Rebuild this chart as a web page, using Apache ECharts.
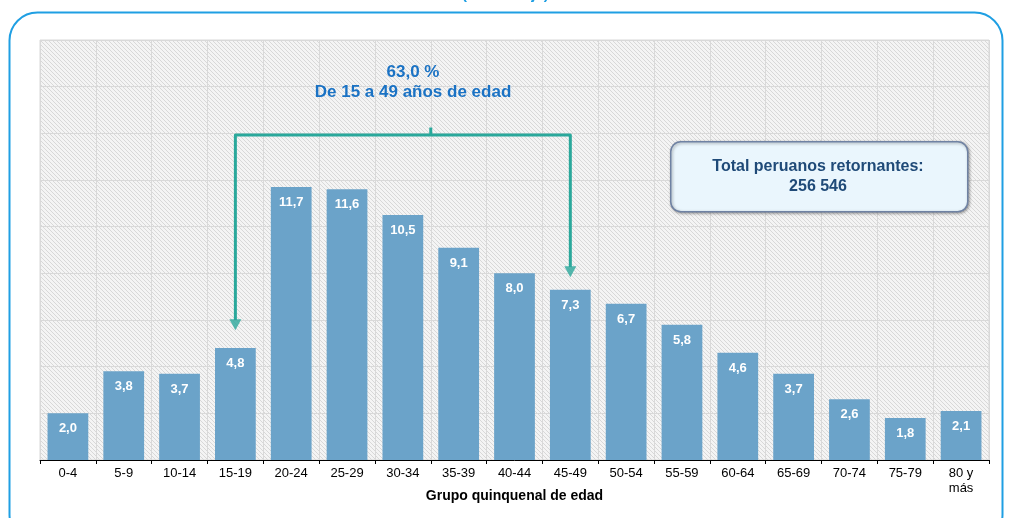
<!DOCTYPE html>
<html>
<head>
<meta charset="utf-8">
<script src="https://cdn.jsdelivr.net/npm/echarts@6/dist/echarts.min.js"></script>
<style>
  html, body { margin: 0; padding: 0; background: #fff; }
  #main_chart { width: 1011px; height: 518px; }
</style>
</head>
<body>
<div id="main_chart"></div>
<script>
// grupos quinquenales de edad
var grupos = ['0-4', '5-9', '10-14', '15-19', '20-24', '25-29', '30-34', '35-39', '40-44',
  '45-49', '50-54', '55-59', '60-64', '65-69', '70-74', '75-79', '80 y\nmás'];
// porcentaje de retornantes
var porcentajes = [2.0, 3.8, 3.7, 4.8, 11.7, 11.6, 10.5, 9.1, 8.0, 7.3, 6.7, 5.8, 4.6, 3.7, 2.6, 1.8, 2.1];

// llave 15 a 49 (indices de grupo, valor en eje y)
var llave_linea = [[3, 6.0], [3, 13.93], [9, 13.93], [9, 8.27]];
var llave_marca = [[6.5, 13.93], [6.5, 14.25]];
var llave_flechas = [[3, 5.8], [9, 8.07]];

var textoLlave = ['63,0 %', 'De 15 a 49 años de edad'];
var textoTotal = ['Total peruanos retornantes:', '256 546'];

// trama rayada del fondo
function crearTrama(){
  var c = document.createElement('canvas');
  c.width = 4; c.height = 4;
  var ctx = c.getContext('2d');
  ctx.fillStyle = '#f4f4f4';
  ctx.fillRect(0, 0, 4, 4);
  ctx.strokeStyle = '#d8d8d8';
  ctx.lineWidth = 1;
  ctx.beginPath();
  ctx.moveTo(-1, -1); ctx.lineTo(5, 5);
  ctx.moveTo(-1, 3); ctx.lineTo(1, 5);
  ctx.moveTo(3, -1); ctx.lineTo(5, 1);
  ctx.stroke();
  return c;
}

var myChart = echarts.init(document.getElementById('main_chart'));
var colorLlave = '#2aa89b';
var fuente = 'Liberation Sans, Arial, sans-serif';

var option = {
  animation: false,
  textStyle: { fontFamily: fuente },
  grid: {
    left: 40, top: 40, right: 22, bottom: 58,
    show: true,
    backgroundColor: { image: crearTrama(), repeat: 'repeat' },
    borderColor: '#d9d9d9',
    borderWidth: 1
  },
  xAxis: [{
    type: 'category',
    data: grupos,
    boundaryGap: true,
    name: 'Grupo quinquenal de edad',
    nameLocation: 'middle',
    nameGap: 29,
    nameMoveOverlap: false,
    nameTextStyle: { color: '#000', fontSize: 14, fontWeight: 'bold' },
    axisLine: { lineStyle: { color: '#000', width: 1 } },
    axisTick: { show: true, length: 4, lineStyle: { color: '#000' } },
    axisLabel: { color: '#000', fontSize: 13, margin: 6, interval: 0, lineHeight: 15 },
    splitLine: { show: true, lineStyle: { color: '#d9d9d9', width: 1 } }
  }, {
    type: 'value',
    min: -0.5, max: 16.5,
    show: false
  }],
  yAxis: {
    type: 'value',
    min: 0, max: 18, interval: 2,
    axisLabel: { show: false },
    axisLine: { show: false },
    axisTick: { show: false },
    splitLine: { lineStyle: { color: '#d9d9d9', width: 1 } }
  },
  series: [{
    type: 'bar',
    data: porcentajes,
    barWidth: '73%',
    itemStyle: { color: '#6ba3c9' },
    label: {
      show: true,
      position: 'insideTop',
      distance: 9,
      color: '#fff',
      fontWeight: 'bold',
      fontSize: 13,
      formatter: function(p){ return p.value.toFixed(1).replace('.', ','); }
    },
    z: 2
  }, {
    type: 'line',
    xAxisIndex: 1,
    data: llave_linea,
    symbol: 'none',
    lineStyle: { color: colorLlave, width: 3, join: 'round' },
    z: 5
  }, {
    type: 'line',
    xAxisIndex: 1,
    data: llave_marca,
    symbol: 'none',
    lineStyle: { color: colorLlave, width: 3 },
    z: 5
  }, {
    type: 'scatter',
    xAxisIndex: 1,
    data: llave_flechas,
    symbol: 'triangle',
    symbolSize: [12, 11],
    symbolRotate: 180,
    itemStyle: { color: colorLlave },
    z: 6
  }],
  graphic: [{
    type: 'rect',
    left: 7, top: 10,
    shape: { width: 993, height: 530, r: 28 },
    style: { fill: 'none', stroke: '#1f9fe3', lineWidth: 2 },
    z: 100
  }, {
    type: 'text',
    left: 462, top: -13,
    style: { text: '(Porcentaje)', fill: '#1f9fe3', font: 'bold 15px ' + fuente },
    z: 100
  }, {
    type: 'text',
    x: 413, y: 82,
    style: {
      text: textoLlave.join('\n'),
      fill: '#1a72c4',
      font: 'bold 17px ' + fuente,
      align: 'center', verticalAlign: 'middle', lineHeight: 20
    },
    z: 100
  }, {
    type: 'rect',
    left: 670, top: 141,
    shape: { width: 297, height: 70, r: 10 },
    style: {
      fill: '#eaf6fd', stroke: '#6f82a3', lineWidth: 1.5,
      shadowBlur: 3, shadowOffsetX: 1, shadowOffsetY: 1, shadowColor: 'rgba(0,0,0,0.35)'
    },
    z: 100
  }, {
    type: 'text',
    x: 818, y: 177,
    style: {
      text: textoTotal.join('\n'),
      fill: '#1f4a78',
      font: 'bold 16px ' + fuente,
      align: 'center', verticalAlign: 'middle', lineHeight: 20
    },
    z: 101
  }]
};

myChart.setOption(option);
window.onresize = function(){
  myChart.resize();
};
</script>
</body>
</html>
